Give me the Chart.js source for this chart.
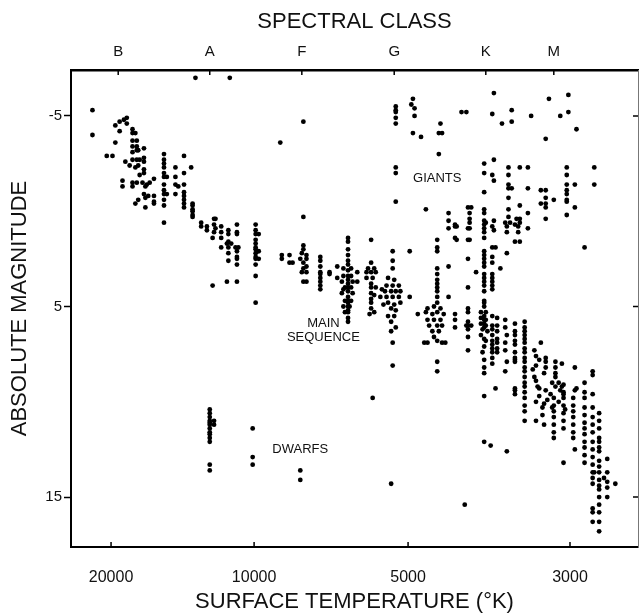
<!DOCTYPE html>
<html>
<head>
<meta charset="utf-8">
<script src="https://cdn.jsdelivr.net/npm/chart.js@4.4.0/dist/chart.umd.min.js"></script>
<style>
  body { margin: 0; background: #fff; }
</style>
</head>
<body>
<canvas id="hr" width="642" height="613"></canvas>
<script>
// Eje de temperatura: posicion 0..3 = marcas 20000, 10000, 5000, 3000
const TEMP_TICKS = [0, 1, 2, 3];
const TEMP_LABELS = ['20000', '10000', '5000', '3000'];
// Las marcas de temperatura no estan equiespaciadas en la figura original:
// ancho relativo de cada tramo 20000-10000, 10000-5000, 5000-3000
const TEMP_SPACING = [144, 155, 163];

// Clases espectrales en el eje superior
const CLASS_TICKS = [0.05, 0.69, 1.31, 1.91, 2.48, 2.90];
const CLASS_LABELS = ['B', 'A', 'F', 'G', 'K', 'M'];

// Magnitud absoluta
const MAG_TICKS = [-5, 5, 15];

// Estrellas: [posicion de temperatura, [magnitudes...]]
const supergiants = [
    [0.59, [-7.0]],
    [0.83, [-7.0]]
];

const brightBlue = [
    [-0.13, [-5.3, -4.0]],
    [-0.03, [-2.9]],
    [0.01, [-2.9]],
    [0.03, [-4.5, -3.6]],
    [0.06, [-4.7, -4.2]],
    [0.08, [-1.6, -1.3]],
    [0.09, [-4.8]],
    [0.10, [-2.6]],
    [0.11, [-4.9, -4.6]],
    [0.13, [-2.4]],
    [0.15, [-4.3, -4.1, -3.7, -3.4, -3.1, -2.7, -1.5, -1.3]],
    [0.17, [-4.1, -2.3, -0.4]],
    [0.18, [-3.7, -3.4, -3.2, -2.7, -1.5]],
    [0.19, [-3.2, -2.4, -0.6]],
    [0.20, [-2.7, -1.9]],
    [0.22, [-1.5]],
    [0.23, [-3.3, -2.8, -2.6, -2.2, -2.0, -0.9]],
    [0.24, [-1.3, -0.7, -0.2]],
    [0.25, [-1.4]],
    [0.26, [-0.8]],
    [0.27, [-1.5]],
    [0.30, [-1.7, -0.8, -0.5, -0.4]],
    [0.37, [-3.0, -2.7, -2.5, -2.3, -2.0, -1.8, -1.4, -1.1, -0.9, -0.6, -0.3, 0.6]],
    [0.39, [-1.8, -0.9]],
    [0.45, [-2.3, -1.8, -1.4, -0.9]],
    [0.47, [-1.3]],
    [0.51, [-2.9, -2.0, -1.4, -1.0, -0.8, -0.6, -0.4, -0.2]],
    [0.56, [-2.3]],
    [0.57, [-0.4, -0.3, -0.1, 0.0, 0.2, 0.3]]
];

const aStars = [
    [0.63, [0.6, 0.8]],
    [0.67, [0.8, 1.0]],
    [0.71, [1.4, 3.9]],
    [0.72, [0.4, 0.7, 1.1]],
    [0.73, [0.4, 0.9]],
    [0.77, [0.8, 1.1, 1.4, 1.9]],
    [0.81, [1.7, 3.7]],
    [0.82, [1.0, 1.2, 1.6, 1.9, 2.2, 2.6]],
    [0.84, [1.7]],
    [0.87, [1.9]],
    [0.88, [0.7, 1.1, 1.2, 2.1, 2.4, 2.5, 2.8, 3.7]],
    [0.89, [1.9]],
    [1.01, [0.7, 1.0, 1.2, 1.5, 1.7, 1.9, 2.0, 2.2, 2.4, 2.5, 2.8, 3.4, 4.8]],
    [1.03, [1.2, 2.1, 2.5]]
];

const fgStars = [
    [1.18, [2.3, 2.5]],
    [1.23, [2.3, 2.7]],
    [1.25, [2.7]],
    [1.30, [2.5]],
    [1.31, [2.2, 3.2]],
    [1.32, [1.8, 2.0, 2.7, 3.0, 3.7]],
    [1.34, [2.3, 2.5, 2.9, 3.2, 3.7]],
    [1.43, [2.4, 2.6, 2.9, 3.2, 3.3, 3.5, 3.7, 3.9, 4.1]],
    [1.49, [3.2, 3.3]],
    [1.54, [2.9, 3.5]],
    [1.57, [3.7, 4.3]],
    [1.58, [3.0, 3.4, 4.1, 5.0]],
    [1.59, [4.0, 4.7, 5.3]],
    [1.61, [1.4, 1.6, 2.0, 2.3, 2.6, 2.8, 3.1, 3.4, 3.6, 3.8, 4.0, 4.2, 4.5, 4.7, 4.8, 5.0, 5.2, 5.3, 5.6, 5.8]],
    [1.62, [5.0]],
    [1.63, [3.0, 3.4, 4.0, 4.7]],
    [1.64, [3.7, 4.3]],
    [1.67, [3.2, 3.7]],
    [1.73, [3.2, 3.5]],
    [1.74, [3.0]],
    [1.75, [5.4]],
    [1.76, [1.5, 2.7, 3.2, 3.8, 4.0, 4.3, 4.6, 4.8, 5.1]],
    [1.77, [3.5, 9.8]],
    [1.78, [3.0, 4.4, 5.3]],
    [1.79, [3.2, 4.0]],
    [1.82, [4.5]],
    [1.83, [4.1]],
    [1.84, [4.9]],
    [1.85, [4.2]],
    [1.86, [3.9, 4.5]],
    [1.87, [3.5, 4.8, 5.5]],
    [1.89, [4.2, 5.1, 5.8, 6.3]],
    [1.90, [2.1, 2.6, 3.0, 3.9, 4.5, 6.9, 8.1]],
    [1.91, [3.6, 4.9, 5.5]],
    [1.92, [4.2, 5.2, 6.1]],
    [1.94, [3.9, 4.5]],
    [1.95, [4.2, 4.8]],
    [2.01, [2.1, 4.5]],
    [2.06, [5.4]]
];

const kStars = [
    [2.10, [6.9]],
    [2.11, [5.3]],
    [2.12, [5.1, 5.7, 6.9]],
    [2.13, [6.0]],
    [2.15, [5.4, 6.3]],
    [2.16, [5.0, 5.7, 6.6]],
    [2.18, [1.5, 1.9, 2.1, 3.0, 3.3, 3.6, 3.8, 4.0, 4.2, 4.5, 4.8, 5.3, 6.0, 6.8, 7.9, 8.4]],
    [2.19, [6.3]],
    [2.20, [5.1, 5.7]],
    [2.21, [6.0, 6.9]],
    [2.22, [5.4]],
    [2.23, [6.9]],
    [2.25, [2.9, 4.5]],
    [2.29, [5.4, 5.7, 6.1]],
    [2.36, [6.0]],
    [2.37, [2.5, 4.0, 5.1, 5.3, 5.8, 6.0, 6.2, 6.6, 7.3]],
    [2.39, [6.0]],
    [2.42, [3.2]],
    [2.45, [5.3, 5.6, 5.9, 6.5]],
    [2.46, [6.2, 7.4]],
    [2.47, [2.1, 2.3, 2.5, 2.7, 2.9, 3.3, 3.5, 3.7, 3.9, 4.2, 4.7, 4.8, 5.0, 5.5, 5.7, 5.9, 6.1, 6.7, 7.1, 7.8, 8.2, 8.5, 9.7, 12.1]],
    [2.48, [5.3, 5.7, 6.0, 6.8]],
    [2.49, [6.3]],
    [2.51, [12.3]],
    [2.52, [1.9, 2.4, 2.7, 3.3, 3.5, 3.7, 3.9, 4.1, 5.5, 6.0, 6.2, 6.5, 6.8, 7.0, 7.2, 7.4, 7.7, 8.0]],
    [2.54, [1.9, 9.3]],
    [2.55, [5.6, 6.0, 6.3, 6.7, 6.9, 7.2, 7.4]],
    [2.57, [3.0]],
    [2.60, [5.7, 6.1, 6.9, 7.3, 8.4]],
    [2.61, [2.2, 6.5, 7.9, 12.6]]
];

const mStars = [
    [2.66, [5.9, 6.3, 6.5, 6.8, 7.0, 7.4, 7.7, 7.8, 7.9, 9.3, 9.4, 9.6]],
    [2.72, [5.8, 6.1, 6.3, 6.5, 6.7, 6.9, 7.2, 7.4, 7.7, 7.9, 8.2, 8.4, 8.7, 9.0, 9.2, 9.5, 9.8, 10.2, 10.5, 11.0]],
    [2.77, [8.3]],
    [2.78, [7.3, 8.7]],
    [2.79, [7.6, 8.1, 8.9, 10.0, 11.0]],
    [2.80, [9.2]],
    [2.81, [7.8, 9.3, 9.7]],
    [2.82, [6.9]],
    [2.83, [10.3, 10.7]],
    [2.84, [8.5, 10.1, 11.2]],
    [2.85, [7.7, 7.9, 8.2, 9.4]],
    [2.86, [9.9]],
    [2.88, [9.6]],
    [2.89, [9.0, 10.3]],
    [2.90, [9.8, 10.2, 10.5, 10.8, 11.2, 11.6, 11.9]],
    [2.91, [7.9, 8.2, 8.5, 8.7, 9.2]],
    [2.93, [9.0, 10.0]],
    [2.94, [9.4]],
    [2.95, [8.0, 9.2]],
    [2.96, [9.1, 9.5, 9.6, 9.8, 10.2, 10.6, 11.0, 11.4, 13.2]],
    [2.97, [10.4]],
    [3.02, [9.8, 10.2, 10.5, 10.8, 11.2, 11.6, 11.9]],
    [3.03, [8.2, 9.4, 12.5]],
    [3.04, [9.3]],
    [3.09, [1.9, 9.0, 9.5, 9.8, 10.3, 10.7, 11.1, 11.4, 11.7, 12.1, 12.4, 12.8, 13.2]],
    [3.14, [8.4, 8.6, 9.6, 10.3, 10.8, 11.2, 11.6, 12.1, 12.5, 12.9, 13.3, 13.7, 14.0, 14.3, 15.6, 15.8, 16.3]],
    [3.15, [13.7]],
    [3.18, [10.6, 11.0, 11.4, 11.9, 12.1, 12.4, 12.6, 13.1, 13.4, 13.7, 14.1, 14.4, 14.6, 15.0, 15.4, 15.8, 16.3, 16.8]],
    [3.21, [14.0]],
    [3.23, [13.0, 13.7, 14.2, 14.5, 15.0]],
    [3.28, [14.3]]
];

const giants = [
    [1.17, [-3.6]],
    [1.32, [-4.7, 0.3]],
    [1.92, [-5.5, -5.3, -5.2, -4.9, -4.6, -2.3, -2.0, -0.5]],
    [2.02, [-5.6]],
    [2.03, [-5.9, -4.1]],
    [2.04, [-5.4, -5.0]],
    [2.08, [-3.9]],
    [2.11, [-0.1]],
    [2.19, [-4.1, -3.0]],
    [2.20, [-4.6]],
    [2.21, [-4.1]],
    [2.25, [0.1, 0.5, 0.9]],
    [2.29, [0.7, 0.8, 1.4]],
    [2.30, [0.8, 1.5]],
    [2.33, [-5.2]],
    [2.36, [-5.2]],
    [2.37, [-0.2, 0.9, 1.5]],
    [2.38, [0.1, 0.4, 0.6, 0.9, 1.5]],
    [2.39, [-0.2]],
    [2.47, [-2.5, -2.0, -1.0, -0.1, 0.1, 0.5, 0.7, 0.9, 1.1, 1.4]],
    [2.48, [0.6]],
    [2.52, [-5.1, -1.9, 0.8]],
    [2.53, [-6.2, -2.7, -1.6, 0.5, 1.0]],
    [2.58, [-4.6]],
    [2.60, [0.6]],
    [2.61, [0.8, 1.1]],
    [2.62, [-2.3, -1.9, -1.4, -1.2, -0.7, -0.1, 0.3]],
    [2.63, [0.6]],
    [2.64, [-5.3, -4.7, -1.2]],
    [2.66, [0.7, 1.6]],
    [2.67, [0.4]],
    [2.68, [0.8, 1.1]],
    [2.69, [-2.3, -0.3, 0.4, 0.6, 1.6]],
    [2.74, [-2.3, -1.2, 0.1, 0.9]],
    [2.76, [-5.0]],
    [2.82, [-1.1, -0.4]],
    [2.85, [-3.8, -1.1, -0.7, -0.4, -0.2, 0.4]],
    [2.87, [-5.9]],
    [2.90, [-0.6]],
    [2.94, [-5.0]],
    [2.98, [-2.3, -1.9, -1.4, -1.1, -0.9, -0.6, -0.5, 0.2]],
    [2.99, [-6.1, -5.2]],
    [3.03, [-1.4, -0.2]],
    [3.04, [-4.3]],
    [3.15, [-2.3, -1.4]]
];

const dwarfs = [
    [0.69, [10.4, 10.6, 10.8, 11.0, 11.1, 11.2, 11.4, 11.6, 11.7, 11.9, 12.1, 13.3, 13.6]],
    [0.72, [11.0, 11.2]],
    [0.99, [11.4, 12.9, 13.3]],
    [1.30, [13.6, 14.1]],
    [1.89, [14.3]],
    [2.35, [15.4]]
];

// Rotulos dentro del grafico (en unidades de los ejes)
const regionLabels = [
    { text: 'GIANTS', x: 2.18, y: -1.7 },
    { text: 'MAIN', x: 1.45, y: 5.9 },
    { text: 'SEQUENCE', x: 1.45, y: 6.6 },
    { text: 'DWARFS', x: 1.30, y: 12.5 }
];

const X_MIN = -0.28, X_MAX = 3.42;
const Y_MIN = -7.41, Y_MAX = 17.62;
const FONT = '"Liberation Sans", Arial, Helvetica, sans-serif';

const estrellas = [supergiants, brightBlue, aStars, fgStars, kStars, mStars, giants, dwarfs]
    .flatMap(grupo => grupo.flatMap(([x, mags]) => mags.map(y => ({ x, y }))));

// Escala lineal por tramos entre las marcas de temperatura
function distanciaTemp(v) {
    const [a, b, c] = TEMP_SPACING;
    if (v <= 1) return v * a;
    if (v <= 2) return a + (v - 1) * b;
    return a + b + (v - 2) * c;
}

class TempScale extends Chart.LinearScale {
    getPixelForValue(value) {
        const d0 = distanciaTemp(this.min);
        const d1 = distanciaTemp(this.max);
        return this.getPixelForDecimal((distanciaTemp(value) - d0) / (d1 - d0));
    }
}
TempScale.id = 'temp';
TempScale.defaults = Chart.LinearScale.defaults;
Chart.register(TempScale);

// Marcas hacia dentro y rotulos de zonas
const decoracion = {
    id: 'decoracion',
    afterDraw(chart) {
        const { ctx, chartArea: a, scales } = chart;
        ctx.save();
        ctx.strokeStyle = '#000';
        ctx.lineWidth = 1.5;
        ctx.beginPath();
        scales.x.ticks.forEach(t => {
            const p = scales.x.getPixelForValue(t.value);
            ctx.moveTo(p, a.bottom); ctx.lineTo(p, a.bottom - 5);
        });
        scales.x2.ticks.forEach(t => {
            const p = scales.x2.getPixelForValue(t.value);
            ctx.moveTo(p, a.top); ctx.lineTo(p, a.top + 5);
        });
        scales.y2.ticks.forEach(t => {
            const p = scales.y2.getPixelForValue(t.value);
            ctx.moveTo(a.right, p); ctx.lineTo(a.right - 5, p);
        });
        ctx.stroke();

        ctx.fillStyle = '#111';
        ctx.font = '13px ' + FONT;
        ctx.textAlign = 'center';
        ctx.textBaseline = 'middle';
        regionLabels.forEach(l => {
            ctx.fillText(l.text, scales.x.getPixelForValue(l.x), scales.y.getPixelForValue(l.y));
        });
        ctx.restore();
    }
};

const ctx = document.getElementById('hr').getContext('2d');
new Chart(ctx, {
    type: 'scatter',
    data: {
        datasets: [{
            data: estrellas,
            backgroundColor: '#000',
            borderWidth: 0,
            pointRadius: 2.4
        }]
    },
    options: {
        responsive: false,
        animation: false,
        layout: { padding: 0 },
        plugins: { legend: { display: false }, tooltip: { enabled: false } },
        scales: {
            x: {
                type: 'temp',
                position: 'bottom',
                min: X_MIN, max: X_MAX,
                afterBuildTicks: axis => { axis.ticks = TEMP_TICKS.map(v => ({ value: v })); },
                afterFit: axis => { axis.height = 66; },
                ticks: {
                    autoSkip: false, maxRotation: 0, padding: 21,
                    color: '#111', font: { family: FONT, size: 16 },
                    callback: (v, i) => TEMP_LABELS[i]
                },
                grid: { drawOnChartArea: false, drawTicks: false },
                border: { color: '#000', width: 2 },
                title: {
                    display: true, text: 'SURFACE TEMPERATURE (°K)', color: '#111',
                    font: { family: FONT, size: 22, lineHeight: 1 },
                    padding: { top: 0, bottom: 0 }
                }
            },
            x2: {
                type: 'temp',
                position: 'top',
                min: X_MIN, max: X_MAX,
                afterBuildTicks: axis => { axis.ticks = CLASS_TICKS.map(v => ({ value: v })); },
                afterFit: axis => { axis.height = 70; },
                ticks: {
                    autoSkip: false, maxRotation: 0, padding: 9,
                    color: '#111', font: { family: FONT, size: 15 },
                    callback: (v, i) => CLASS_LABELS[i]
                },
                grid: { drawOnChartArea: false, drawTicks: false },
                border: { color: '#000', width: 2.5 },
                title: {
                    display: true, text: 'SPECTRAL CLASS', color: '#111',
                    font: { family: FONT, size: 22, lineHeight: 1 },
                    padding: { top: 11, bottom: 0 }
                }
            },
            y: {
                type: 'linear',
                position: 'left',
                reverse: true,
                min: Y_MIN, max: Y_MAX,
                afterBuildTicks: axis => { axis.ticks = MAG_TICKS.map(v => ({ value: v })); },
                afterFit: axis => { axis.width = 71; },
                ticks: {
                    autoSkip: false, padding: 2,
                    color: '#111', font: { family: FONT, size: 15 },
                    callback: v => String(v)
                },
                grid: { drawOnChartArea: false, drawTicks: true, tickLength: 7, tickColor: '#000', tickWidth: 1.5 },
                border: { color: '#000', width: 2 },
                title: {
                    display: true, text: 'ABSOLUTE MAGNITUDE', color: '#111',
                    font: { family: FONT, size: 22, lineHeight: 1 },
                    padding: { top: 9, bottom: 0 }
                }
            },
            y2: {
                type: 'linear',
                position: 'right',
                reverse: true,
                min: Y_MIN, max: Y_MAX,
                afterBuildTicks: axis => { axis.ticks = MAG_TICKS.map(v => ({ value: v })); },
                afterFit: axis => { axis.width = 1; },
                ticks: { display: false },
                grid: { drawOnChartArea: false, drawTicks: false },
                border: { color: '#777', width: 1 }
            }
        }
    },
    plugins: [decoracion]
});
</script>
</body>
</html>
